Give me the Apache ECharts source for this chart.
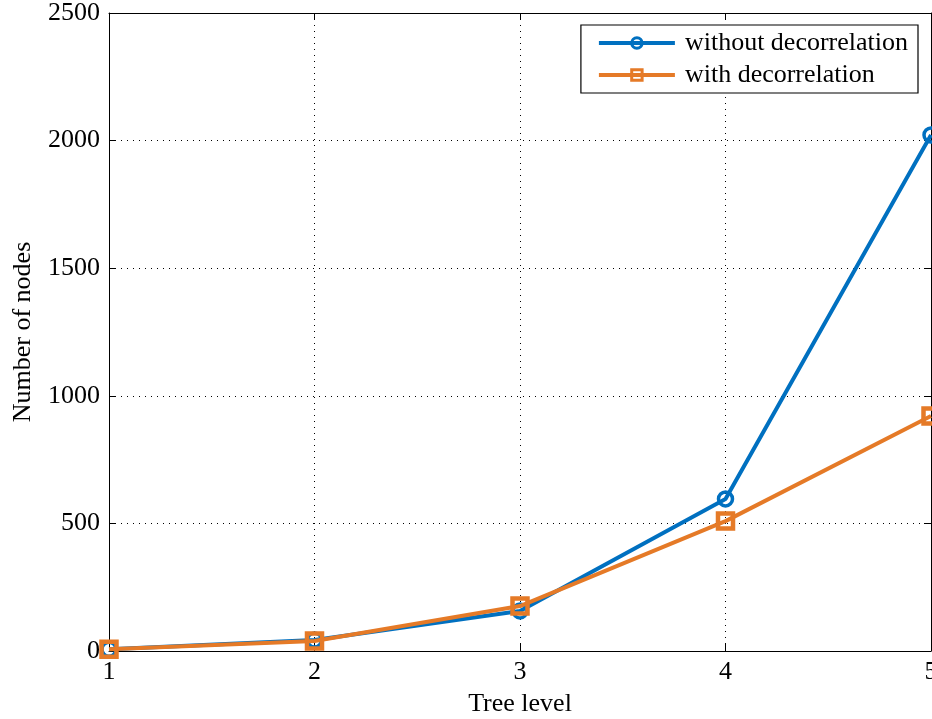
<!DOCTYPE html>
<html><head><meta charset="utf-8">
<script src="https://cdn.jsdelivr.net/npm/echarts@6/dist/echarts.min.js"></script>
<style>html,body{margin:0;padding:0;background:#fff}#c{width:932px;height:719px}</style>
</head><body><div id="c"></div>
<script>
const categories = [1, 2, 3, 4, 5];
const withoutDecorrelation = [7, 43, 157, 596, 2022];
const withDecorrelation = [7, 39, 176, 509, 921];
const yTicks = [0, 500, 1000, 1500, 2000, 2500];

const font = "'Liberation Serif', 'Times New Roman', serif";
const chart = echarts.init(document.getElementById('c'), null, {renderer: 'canvas'});
const pairs = a => a.map((v, i) => [categories[i], v]);
const axisCommon = {
  axisLine: {show: true, onZero: false, lineStyle: {color: '#000', width: 1}},
  axisTick: {show: true, inside: true, length: 7, lineStyle: {color: '#000'}},
};
chart.setOption({
  animation: false,
  textStyle: {fontFamily: font},
  grid: {left: 109, right: 1, top: 13, bottom: 68, containLabel: false, outerBoundsMode: 'none'},
  legend: {
    orient: 'vertical', right: 14, top: 25,
    backgroundColor: '#fff', borderColor: '#000', borderWidth: 1.2,
    padding: [5, 10, 5, 16], itemGap: 6,
    itemWidth: 76, itemHeight: 13,
    lineStyle: {width: 4},
    textStyle: {fontFamily: font, fontSize: 26, color: '#000', padding: [0, 0, 0, 5]},
    data: [
      {name: 'without decorrelation', itemStyle: {borderWidth: 3}},
      {name: 'with decorrelation', itemStyle: {borderWidth: 3}}
    ]
  },
  xAxis: [{
    type: 'value', min: 1, max: 5, interval: 1,
    name: 'Tree level', nameLocation: 'middle', nameGap: 40,
    nameTextStyle: {fontFamily: font, fontSize: 26, color: '#000'},
    ...axisCommon,
    axisLabel: {fontFamily: font, fontSize: 26, color: '#000', margin: 8},
    splitLine: {show: true, lineStyle: {color: '#000', type: [1, 5], width: 1}}
  }, {
    type: 'value', min: 1, max: 5, interval: 1, position: 'top',
    ...axisCommon, axisLabel: {show: false}, splitLine: {show: false}
  }],
  yAxis: [{
    type: 'value', min: 0, max: 2500, interval: 500,
    name: 'Number of nodes', nameLocation: 'middle', nameGap: 73,
    nameTextStyle: {fontFamily: font, fontSize: 26, color: '#000'},
    ...axisCommon,
    axisLabel: {fontFamily: font, fontSize: 26, color: '#000', margin: 9,
      formatter: v => yTicks.includes(v) ? String(v) : ''},
    splitLine: {show: true, lineStyle: {color: '#000', type: [1, 5], width: 1}}
  }, {
    type: 'value', min: 0, max: 2500, interval: 500, position: 'right',
    ...axisCommon, axisLabel: {show: false}, splitLine: {show: false}
  }],
  series: [{
    name: 'without decorrelation', type: 'line', data: pairs(withoutDecorrelation),
    symbol: 'circle', symbolSize: 14, z: 3,
    lineStyle: {color: '#0070C0', width: 4},
    itemStyle: {color: 'rgba(255,255,255,0)', borderColor: '#0070C0', borderWidth: 3.5}
  }, {
    name: 'with decorrelation', type: 'line', data: pairs(withDecorrelation),
    symbol: 'rect', symbolSize: 15, z: 4,
    lineStyle: {color: '#E57A27', width: 4},
    itemStyle: {color: 'rgba(255,255,255,0)', borderColor: '#E57A27', borderWidth: 4.5}
  }]
});
</script></body></html>
